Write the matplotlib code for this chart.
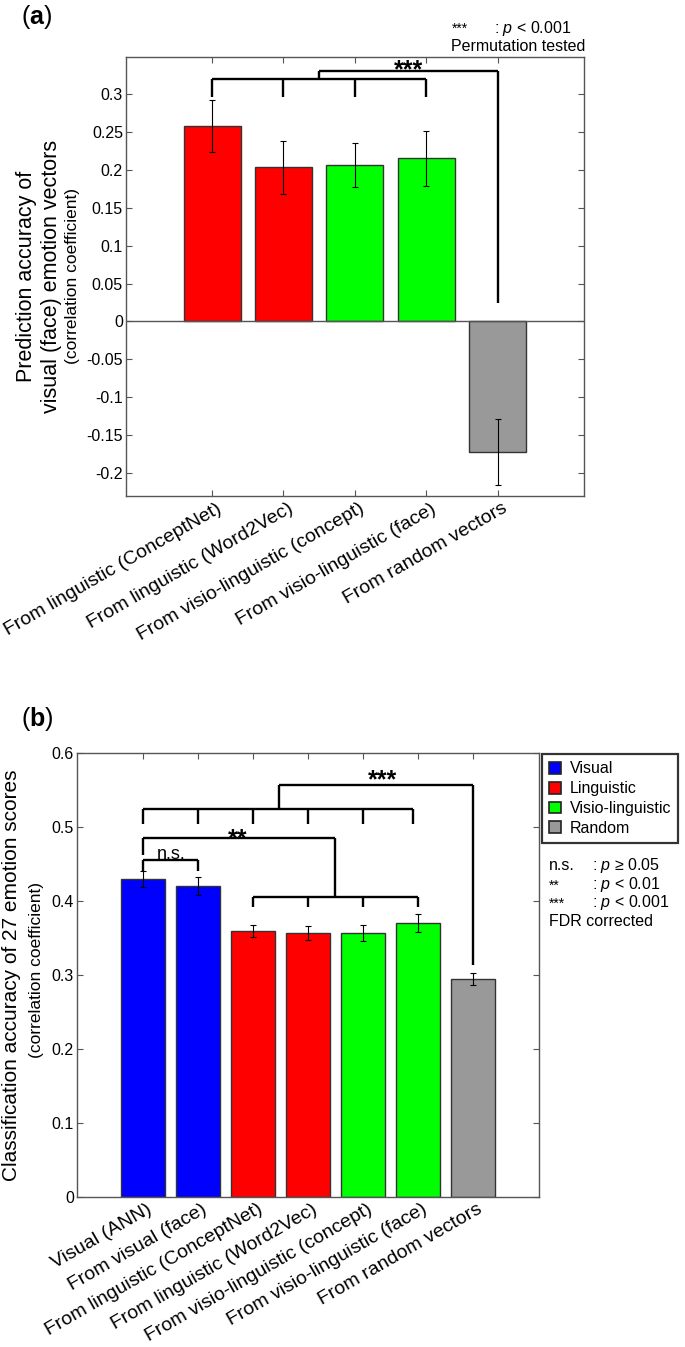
import numpy as np
import matplotlib
matplotlib.use("Agg")
import matplotlib.pyplot as plt
from matplotlib.patches import Patch
from matplotlib.ticker import FuncFormatter
from matplotlib.transforms import ScaledTranslation

plt.rcParams['font.family'] = ['Liberation Sans', 'DejaVu Sans']
plt.rcParams['axes.unicode_minus'] = False
plt.rcParams['mathtext.fontset'] = 'custom'
plt.rcParams['mathtext.rm'] = 'Liberation Sans'
plt.rcParams['mathtext.it'] = 'Liberation Sans:italic'
plt.rcParams['mathtext.bf'] = 'Liberation Sans:bold'

# ---- data: panel (a) ----
labels_a = ["From linguistic (ConceptNet)", "From linguistic (Word2Vec)",
            "From visio-linguistic (concept)", "From visio-linguistic (face)",
            "From random vectors"]
values_a = [0.258, 0.203, 0.206, 0.215, -0.172]
errors_a = [0.034, 0.035, 0.029, 0.036, 0.043]
groups_a = ["Linguistic", "Linguistic", "Visio-linguistic", "Visio-linguistic", "Random"]

# ---- data: panel (b) ----
labels_b = ["Visual (ANN)", "From visual (face)", "From linguistic (ConceptNet)",
            "From linguistic (Word2Vec)", "From visio-linguistic (concept)",
            "From visio-linguistic (face)", "From random vectors"]
values_b = [0.430, 0.420, 0.359, 0.357, 0.357, 0.370, 0.295]
errors_b = [0.011, 0.012, 0.008, 0.0095, 0.011, 0.012, 0.008]
groups_b = ["Visual", "Visual", "Linguistic", "Linguistic",
            "Visio-linguistic", "Visio-linguistic", "Random"]

group_colors = {"Visual": "#0000ff", "Linguistic": "#ff0000",
                "Visio-linguistic": "#00ff00", "Random": "#999999"}

W, H = 685, 1347
fig = plt.figure(figsize=(W / 100, H / 100), dpi=100)


def px_axes(l, t, r, b):
    return fig.add_axes([l / W, 1 - b / H, (r - l) / W, (b - t) / H])


def ftext(x, y, s, **kw):
    fig.text(x / W, 1 - y / H, s, **kw)


def style_axes(ax, labels):
    for sp in ax.spines.values():
        sp.set_color('#555555')
        sp.set_linewidth(1.0)
    ax.tick_params(direction='in', length=4, width=0.8, color='#555555',
                   top=True, right=True, labelsize=11.5, pad=2)
    ax.tick_params(axis='x', pad=3)
    ax.set_xticks(np.arange(1, len(labels) + 1))
    ax.yaxis.set_major_formatter(FuncFormatter(lambda v, p: f"{round(v, 4) + 0.0:g}"))
    ax.set_xticklabels(labels, rotation=30, ha='right', va='top',
                       rotation_mode='anchor', fontsize=14)
    shift = ScaledTranslation(4 / 100, 0, fig.dpi_scale_trans)
    for lab in ax.get_xticklabels():
        lab.set_transform(lab.get_transform() + shift)


def bracket(ax, x0, x1, y, legs):
    ax.plot([x0, x1], [y, y], color='black', lw=1.7, solid_capstyle='butt')
    for lx, ly in legs:
        ax.plot([lx, lx], [y, ly], color='black', lw=1.7, solid_capstyle='butt')


# ================= panel (a) =================
ax1 = px_axes(125.7, 56.7, 584, 496)
xa = np.arange(1, len(values_a) + 1)
ax1.bar(xa, values_a, width=0.8, color=[group_colors[g] for g in groups_a],
        edgecolor='#333333', linewidth=1.0, zorder=2)
ax1.errorbar(xa, values_a, yerr=errors_a, fmt='none', ecolor='black',
             elinewidth=0.8, capsize=2.5, capthick=0.8, zorder=3)
ax1.axhline(0, color='#555555', lw=1.0, zorder=4)
ax1.set_xlim(-0.21, 6.21)
ax1.set_ylim(-0.23, 0.349)
ax1.set_yticks(np.arange(-0.2, 0.31, 0.05))
style_axes(ax1, labels_a)

bracket(ax1, 1, 4, 0.319, [(1, 0.296), (2, 0.296), (3, 0.296), (4, 0.296)])
bracket(ax1, 2.5, 5, 0.330, [(2.5, 0.319), (5, 0.025)])
ax1.text(3.75, 0.3222, "***", ha='center', va='baseline', fontsize=18, fontweight='bold')

ftext(39, 276, "Prediction accuracy of\nvisual (face) emotion vectors", rotation=90,
      ha='center', va='center', fontsize=15.5, linespacing=1.25)
ftext(73, 276, "(correlation coefficient)", rotation=90, ha='center', va='center',
      fontsize=12.5)

ftext(451.7, 29, "***", ha='left', va='center', fontsize=10)
ftext(494.3, 28, ": $p$ < 0.001", ha='left', va='center', fontsize=11.5)
ftext(451, 46.7, "Permutation tested", ha='left', va='center', fontsize=11.5)
ftext(21, 3, r"($\mathbf{a}$)", ha='left', va='top', fontsize=18)

# ================= panel (b) =================
ax2 = px_axes(76.7, 753.3, 538.7, 1196.7)
xb = np.arange(1, len(values_b) + 1)
ax2.bar(xb, values_b, width=0.8, color=[group_colors[g] for g in groups_b],
        edgecolor='#333333', linewidth=1.0, zorder=2)
ax2.errorbar(xb, values_b, yerr=errors_b, fmt='none', ecolor='black',
             elinewidth=0.8, capsize=2.5, capthick=0.8, zorder=3)
ax2.set_xlim(-0.2, 8.2)
ax2.set_ylim(0, 0.6)
ax2.set_yticks(np.arange(0, 0.61, 0.1))
style_axes(ax2, labels_b)

bracket(ax2, 1, 2, 0.455, [(1, 0.441), (2, 0.441)])
ax2.text(1.52, 0.457, "n.s.", ha='center', va='baseline', fontsize=13)
bracket(ax2, 1, 4.49, 0.485, [(1, 0.462), (4.49, 0.405)])
ax2.text(2.73, 0.4747, "**", ha='center', va='baseline', fontsize=18, fontweight='bold')
bracket(ax2, 3, 6, 0.405, [(3, 0.392), (4, 0.392), (5, 0.392), (6, 0.392)])
bracket(ax2, 1, 5.91, 0.525, [(1, 0.505), (2, 0.505), (3, 0.505), (4, 0.505),
                              (5, 0.505), (5.91, 0.505)])
bracket(ax2, 3.478, 7, 0.557, [(3.478, 0.525), (7, 0.314)])
ax2.text(5.36, 0.554, "***", ha='center', va='baseline', fontsize=18, fontweight='bold')

ftext(12, 975, "Classification accuracy of 27 emotion scores", rotation=90,
      ha='center', va='center', fontsize=15)
ftext(37, 970, "(correlation coefficient)", rotation=90, ha='center', va='center',
      fontsize=12.5)
ftext(21, 705, r"($\mathbf{b}$)", ha='left', va='top', fontsize=18)

handles = [Patch(facecolor=group_colors[g], edgecolor='#222222', linewidth=1.2, label=g)
           for g in ["Visual", "Linguistic", "Visio-linguistic", "Random"]]
leg = ax2.legend(handles=handles, loc='upper left',
                 bbox_to_anchor=(542.3 / W, 1 - 754.3 / H), bbox_transform=fig.transFigure,
                 fontsize=11.5, frameon=True, fancybox=False, borderaxespad=0,
                 handlelength=0.75, handleheight=0.75, handletextpad=0.5,
                 labelspacing=0.3, borderpad=0.45)
leg.get_frame().set_edgecolor('black')
leg.get_frame().set_linewidth(1.6)

sig_keys = ["n.s.", "**", "***"]
sig_vals = [": $p$ ≥ 0.05", ": $p$ < 0.01", ": $p$ < 0.001"]
rows_y = [865.7, 884.5, 902.5]
for k, v, y in zip(sig_keys, sig_vals, rows_y):
    ftext(549.3, y + (1 if k != "n.s." else 0), k, ha='left', va='center',
          fontsize=11.5 if k == "n.s." else 10)
    ftext(591.7, y, v, ha='left', va='center', fontsize=11.5)
ftext(549.3, 921.7, "FDR corrected", ha='left', va='center', fontsize=11.5)

fig.savefig("out.png", dpi=100)
